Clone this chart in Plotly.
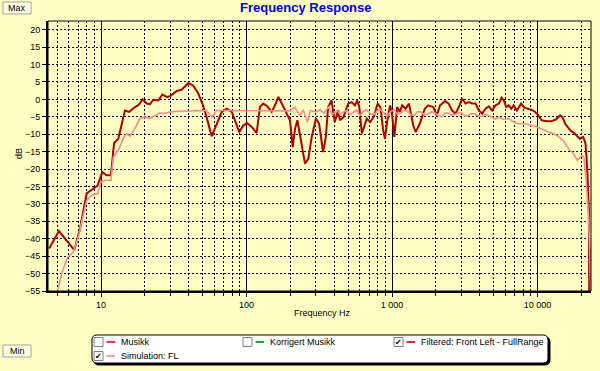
import plotly.graph_objects as go

# ---------------- data ----------------
filt_hz = [4.4, 5.14, 6.55, 7.17, 7.97, 8.63, 9.49, 10.2, 10.9, 11.7,
           12.3, 13.15, 14.6, 15.6, 17.1, 18.05, 19.3, 20.6, 21.7, 22.9,
           24.8, 26.4, 28.3, 29.8, 33.2, 35.9, 39.8, 43.0, 46.7, 49.7,
           53.2, 57.6, 62.3, 67.5, 73.2, 79.2, 83.3, 89.2, 95, 101,
           108.6, 117.3, 123.7, 130.5, 139, 148.9, 157, 165.5, 174.7, 187,
           199, 207.7, 215.7, 223.7, 233.6, 252.6, 266.2, 280.6, 300, 315.6,
           336, 351, 363.8, 384, 404, 426, 439, 464, 500, 528,
           556, 577, 596, 620, 643, 671, 708, 747, 797, 833,
           870, 894, 929, 970, 1000, 1038, 1085, 1130, 1175, 1240,
           1308, 1354, 1400, 1454, 1550, 1680, 1770, 1920, 2030, 2140,
           2320, 2450, 2590, 2730, 2880, 3040, 3200, 3380, 3560, 3750,
           3960, 4170, 4390, 4630, 4880, 5150, 5430, 5660, 5870, 6090,
           6340, 6610, 6850, 7220, 7720, 8130, 8660, 9130, 9630, 10130,
           10680, 11570, 12530, 13360, 14300, 14850, 15500, 16800, 18200, 19500,
           20600, 21400, 22000, 22330, 22540, 22700, 22850, 23200]
filt_db = [-42.8, -37.8, -43.3, -37.1, -27.0, -25.9, -24.7, -20.9, -21.8, -21.8,
           -12.5, -11.3, -3.2, -3.6, -2.2, -1.7, 0.0, -1.2, -1.4, -0.1,
           -0.3, 1.4, 0.7, 0.9, 2.4, 2.8, 4.7, 4.0, 1.6, -1.2,
           -5.1, -10.6, -7.0, -3.6, -2.7, -3.6, -6.0, -9.4, -7.5, -6.8,
           -7.9, -9.7, -2.2, -1.2, -2.0, -3.6, -1.7, 0.7, -1.2, -3.6,
           -6.0, -13.7, -8.4, -6.0, -10.8, -18.5, -17.0, -10.8, -5.5, -7.0,
           -15.1, -10.8, -2.2, -0.3, -6.5, -3.2, -6.0, -5.1, -1.2, -0.8,
           -1.7, -0.3, -2.2, -9.8, -7.9, -5.5, -6.5, -5.1, -1.2, -2.2,
           -8.9, -11.3, -6.0, -1.7, -4.1, -10.8, -2.2, -3.6, -1.7, -2.7,
           -1.2, -4.1, -7.5, -9.4, -7.0, -2.7, -1.7, -2.2, -4.6, -1.7,
           -0.5, -1.2, -3.2, -4.1, -2.2, 0.2, -1.2, -0.8, -1.2, -1.2,
           -3.2, -4.1, -2.7, -2.0, -3.2, -1.7, -1.2, 0.5, -0.3, -2.2,
           -1.7, -2.7, -1.7, -3.2, -1.2, -2.4, -2.7, -3.0, -3.6, -4.6,
           -6.0, -6.3, -6.2, -5.8, -4.6, -5.1, -7.0, -8.9, -10.0, -11.3,
           -10.8, -12.7, -20.4, -25.2, -31.9, -57, -43.3, -43.0]

sim_hz = [4.96, 5.37, 5.9, 6.45, 6.98, 7.56, 7.97, 8.63, 9.49, 10.0,
          10.65, 11.7, 12.15, 13.15, 14.2, 15.0, 15.8, 17.1, 18.5, 20.05,
          21.7, 23.5, 25.4, 26.7, 29.8, 34.0, 44.2, 53.2, 57.6, 62.3,
          70, 88, 120, 160, 200, 208, 215, 225, 234, 245,
          262, 275, 300, 320, 340, 365, 390, 420, 439, 465,
          487, 515, 540, 570, 601, 635, 670, 710, 746, 790,
          831, 880, 925, 980, 1030, 1090, 1147, 1210, 1277, 1350,
          1423, 1500, 1584, 1670, 1764, 1860, 1964, 2070, 2187, 2310,
          2435, 2570, 2712, 2860, 3019, 3190, 3362, 3550, 3743, 3950,
          4168, 4400, 4641, 4880, 5150, 5430, 5870, 6340, 6850, 7380,
          8260, 9130, 9870, 10930, 12080, 13560, 15000, 16300, 17700, 18800,
          20100, 20900, 21600, 22500, 22900, 23300]
sim_db = [-56, -50, -45.3, -43.8, -39.5, -32.8, -29.0, -27.5, -27.1, -23.7,
          -23.2, -23.2, -16.6, -14.6, -11.3, -9.8, -10.6, -8.4, -5.5, -5.1,
          -5.5, -4.6, -3.9, -4.1, -3.6, -3.4, -3.2, -3.2, -5.1, -3.2,
          -3.2, -3.2, -3.3, -3.2, -3.3, -2.6, -2.2, -3.8, -4.6, -3.0,
          -6.5, -3.2, -3.6, -2.9, -4.0, -2.2, -4.4, -3.2, -4.3, -3.6,
          -3.2, -4.4, -3.8, -3.0, -4.6, -3.4, -3.0, -4.2, -4.4, -3.3,
          -2.9, -4.0, -4.8, -3.5, -3.0, -4.2, -4.0, -3.1, -3.4, -4.4,
          -4.6, -3.5, -3.6, -4.5, -4.2, -3.6, -3.8, -4.6, -5.0, -3.9,
          -3.9, -4.5, -4.3, -3.8, -4.0, -4.9, -4.6, -4.0, -4.2, -4.9,
          -4.8, -4.3, -4.6, -5.1, -5.7, -5.1, -5.7, -5.5, -6.5, -7.0,
          -7.0, -7.5, -7.9, -8.7, -9.4, -10.3, -11.8, -14.1, -15.6, -17.5,
          -16.1, -17.0, -23.2, -34.7, -45.3, -57]

x_major = [10, 100, 1000, 10000]
x_major_text = ["10", "100", "1 000", "10 000"]
x_minor = [m * d for d in (1, 10, 100, 1000) for m in range(2, 10)] + [20000]
y_ticks = list(range(-55, 21, 5))

legend_items = [("Musikk", "#FF0000", False),
                ("Korrigert Musikk", "#008000", False),
                ("Filtered: Front Left - FullRange", "#B00000", True),
                ("Simulation: FL", "#FF8A8A", True)]

# ---------------- layout helpers ----------------
W, H = 600, 371
L, R, T, B = 48, 591, 21, 291
BG = "#FFFFC4"
FONT = "Liberation Sans, Arial, sans-serif"


def px(x):
    return (x - L) / (R - L)


def py(y):
    return (B - y) / (B - T)


def rrect_path(x0, y0, x1, y1, r):
    pts = [
        ("M", [(x0 + r, y0)]), ("L", [(x1 - r, y0)]), ("Q", [(x1, y0), (x1, y0 + r)]),
        ("L", [(x1, y1 - r)]), ("Q", [(x1, y1), (x1 - r, y1)]),
        ("L", [(x0 + r, y1)]), ("Q", [(x0, y1), (x0, y1 - r)]),
        ("L", [(x0, y0 + r)]), ("Q", [(x0, y0), (x0 + r, y0)]),
    ]
    s = ""
    for cmd, ps in pts:
        s += cmd + " " + " ".join(f"{px(a):.5f},{py(b):.5f}" for a, b in ps) + " "
    return s + "Z"


fig = go.Figure()
fig.add_trace(go.Scatter(x=filt_hz, y=filt_db, mode="lines",
                         line=dict(color="#B00000", width=2), hoverinfo="skip",
                         name="Filtered: Front Left - FullRange"))
fig.add_trace(go.Scatter(x=sim_hz, y=sim_db, mode="lines",
                         line=dict(color="#FF8A8A", width=1.6), hoverinfo="skip",
                         name="Simulation: FL"))

shapes = []
annotations = []

# frame (top/right thin border)
shapes.append(dict(type="rect", xref="paper", yref="paper", x0=0, x1=1, y0=0, y1=1,
                   line=dict(color="black", width=1), layer="above"))

# Max / Min buttons
for label, (bx0, by0, bx1, by1) in (("Max", (3, 2, 31, 14)), ("Min", (3, 345, 31, 357))):
    shapes.append(dict(type="rect", xref="paper", yref="paper",
                       x0=px(bx0), x1=px(bx1), y0=py(by1), y1=py(by0),
                       line=dict(color="#A0A0A0", width=1), fillcolor="#FFFFE6"))
    annotations.append(dict(xref="paper", yref="paper", x=px((bx0 + bx1) / 2), y=py((by0 + by1) / 2),
                            text=label, showarrow=False, xanchor="center", yanchor="middle",
                            font=dict(family=FONT, size=9, color="black")))

# legend box with shadow
shapes.append(dict(type="path", xref="paper", yref="paper", path=rrect_path(94, 337, 550, 365, 5),
                   fillcolor="black", line=dict(color="black", width=1)))
shapes.append(dict(type="path", xref="paper", yref="paper", path=rrect_path(92, 335, 548, 363, 5),
                   fillcolor="white", line=dict(color="black", width=1)))

legend_pos = [(94, 342), (243, 342), (394, 342), (94, 356)]
for (name, color, checked), (lx, ly) in zip(legend_items, legend_pos):
    shapes.append(dict(type="rect", xref="paper", yref="paper",
                       x0=px(lx), x1=px(lx + 9), y0=py(ly + 4.5), y1=py(ly - 4.5),
                       line=dict(color="#808080", width=1), fillcolor="white"))
    if checked:
        annotations.append(dict(xref="paper", yref="paper", x=px(lx + 4.5), y=py(ly),
                                text="✔", showarrow=False, xanchor="center", yanchor="middle",
                                font=dict(family="DejaVu Sans", size=8, color="black")))
    shapes.append(dict(type="line", xref="paper", yref="paper",
                       x0=px(lx + 12.5), x1=px(lx + 21), y0=py(ly), y1=py(ly),
                       line=dict(color=color, width=1.6)))
    annotations.append(dict(xref="paper", yref="paper", x=px(lx + 25), y=py(ly),
                            text=name, showarrow=False, xanchor="left", yanchor="middle",
                            font=dict(family=FONT, size=9, color="black")))

# title & axis titles
annotations.append(dict(xref="paper", yref="paper", x=px(306), y=py(7),
                        text="<b>Frequency Response</b>", showarrow=False,
                        xanchor="center", yanchor="middle",
                        font=dict(family=FONT, size=13, color="#0000F0")))
annotations.append(dict(xref="paper", yref="paper", x=px(322), y=py(313),
                        text="Frequency Hz", showarrow=False, xanchor="center", yanchor="middle",
                        font=dict(family=FONT, size=9, color="black")))
annotations.append(dict(xref="paper", yref="paper", x=px(19), y=py(154),
                        text="dB", showarrow=False, textangle=-90, xanchor="center", yanchor="middle",
                        font=dict(family=FONT, size=9, color="black")))

fig.update_layout(
    width=W, height=H, autosize=False,
    margin=dict(l=L, r=W - R, t=T, b=H - B, pad=0),
    paper_bgcolor=BG, plot_bgcolor=BG,
    showlegend=False, hovermode=False,
    shapes=shapes, annotations=annotations,
    xaxis=dict(type="log", range=[0.6357, 4.3677],
               tickmode="array", tickvals=x_major, ticktext=x_major_text,
               ticks="outside", ticklen=4, tickcolor="black", tickwidth=1,
               showgrid=True, gridcolor="black", gridwidth=1,
               showline=True, linecolor="black", linewidth=2,
               tickfont=dict(family=FONT, size=9, color="black"),
               zeroline=False,
               minor=dict(tickmode="array", tickvals=x_minor, ticks="outside", ticklen=3,
                          tickcolor="black", showgrid=True, gridcolor="black",
                          gridwidth=1, griddash="2px,2px")),
    yaxis=dict(range=[-55, 22.5], tickmode="array", tickvals=y_ticks,
               ticks="outside", ticklen=4, tickcolor="black", tickwidth=1,
               showgrid=True, gridcolor="black", gridwidth=1, griddash="2px,2px",
               showline=True, linecolor="black", linewidth=2,
               tickfont=dict(family=FONT, size=9, color="black"),
               zeroline=False),
)

fig.write_html("out.html", config={"displayModeBar": False, "staticPlot": True},
               post_script="document.body.style.margin='0px';document.body.style.overflow='hidden';")
